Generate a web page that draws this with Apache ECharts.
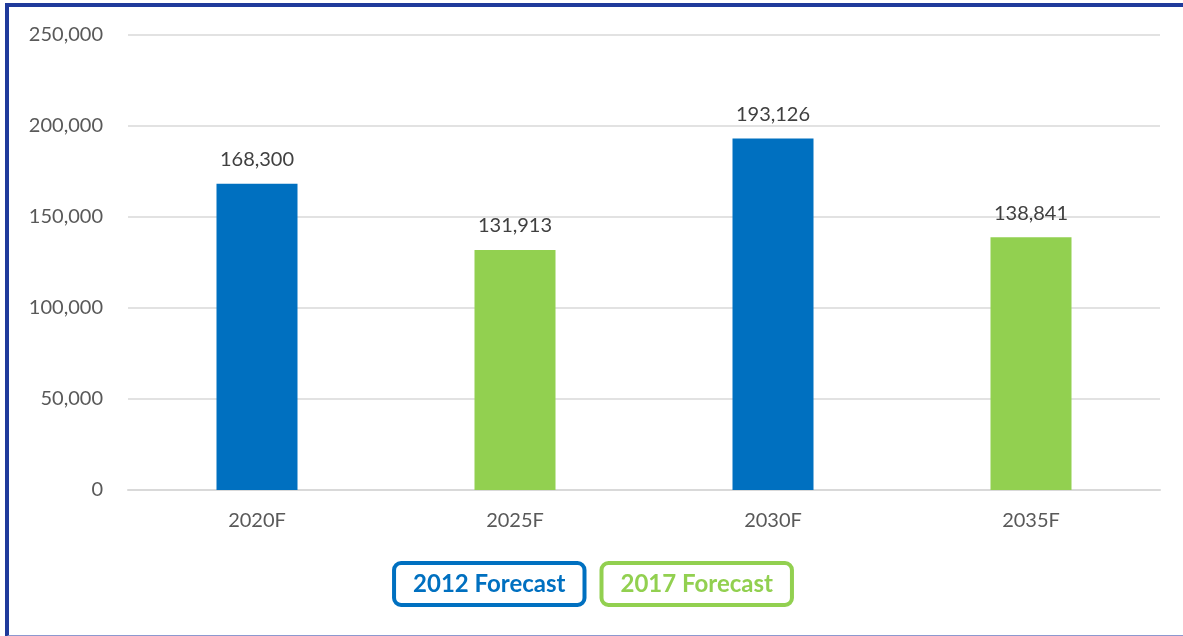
<!DOCTYPE html>
<html>
<head>
<meta charset="utf-8">
<script src="https://cdn.jsdelivr.net/npm/echarts@6/dist/echarts.min.js"></script>
<style>
    html, body { margin: 0; padding: 0; background: #fff; overflow: hidden; }
    .frame {
        position: absolute; left: 5px; top: 3px; width: 1200px; height: 628px;
        border-left: 4px solid #1f3a9b; border-top: 4px solid #1f3a9b;
        border-bottom: 2px solid #8d98cf;
    }
    #chart { position: absolute; left: 0; top: 0; width: 1183px; height: 636px; }
</style>
</head>
<body>
<div class="frame"></div>
<div id="chart"></div>
<script>
    var categories = ['2020F', '2025F', '2030F', '2035F'];
    var forecast2012 = [168300, '-', 193126, '-'];
    var forecast2017 = ['-', 131913, '-', 138841];
    var seriesNames = ['2012 Forecast', '2017 Forecast'];
    var yTicks = { min: 0, max: 250000, interval: 50000 };

    var blue = '#0070c0', green = '#92d050';
    var myChart = echarts.init(document.getElementById('chart'));
    var labelStyle = {
        show: true,
        position: 'top',
        distance: 14,
        color: '#404040',
        fontSize: 20,
        fontFamily: 'Lato',
        formatter: function (p) { return p.value.toLocaleString('en-US'); }
    };
    function legendItem(name, color) {
        return {
            name: name,
            icon: 'none',
            textStyle: {
                color: color,
                fontSize: 24,
                fontWeight: 'bold',
                fontFamily: 'Lato',
                borderColor: color,
                borderWidth: 4,
                borderRadius: 7,
                padding: [10, 19, 8, 19]
            }
        };
    }
    var option = {
        animation: false,
        grid: { left: 128, right: 23, top: 35, bottom: 146 },
        legend: {
            bottom: 24,
            left: 'center',
            itemWidth: 0,
            itemGap: 10,
            selectedMode: false,
            data: [legendItem(seriesNames[0], blue), legendItem(seriesNames[1], green)]
        },
        xAxis: {
            type: 'category',
            data: categories,
            axisTick: { show: false },
            axisLine: { lineStyle: { color: '#d9d9d9', width: 2 } },
            axisLabel: { color: '#595959', fontSize: 20, fontFamily: 'Lato', margin: 21 }
        },
        yAxis: {
            type: 'value',
            min: yTicks.min,
            max: yTicks.max,
            interval: yTicks.interval,
            axisLine: { show: false },
            axisTick: { show: false },
            splitLine: { lineStyle: { color: '#d9d9d9', width: 1.5 } },
            axisLabel: {
                color: '#595959', fontSize: 20, fontFamily: 'Lato', margin: 25,
                formatter: function (v) { return v.toLocaleString('en-US'); }
            }
        },
        series: [
            {
                name: seriesNames[0], type: 'bar', data: forecast2012,
                barWidth: 81, barGap: '-100%',
                itemStyle: { color: blue }, label: labelStyle
            },
            {
                name: seriesNames[1], type: 'bar', data: forecast2017,
                barWidth: 81,
                itemStyle: { color: green }, label: labelStyle
            }
        ]
    };
    myChart.setOption(option);
</script>
</body>
</html>
